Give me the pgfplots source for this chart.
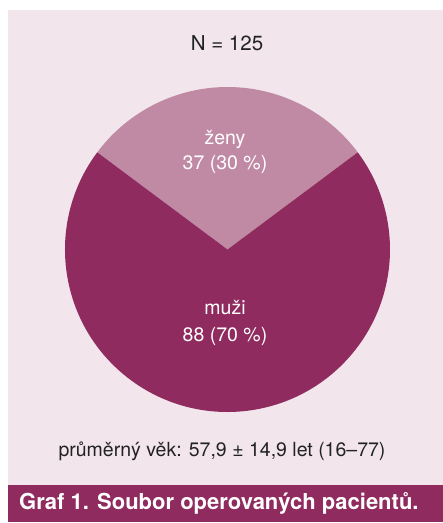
\documentclass[border=0pt]{standalone}
\usepackage{pgfplots}
\usepackage{pgfplotstable}
\pgfplotsset{compat=1.18}
\usepackage{fontspec}
\setmainfont{TeX Gyre Heros}
\definecolor{bgc}{HTML}{F2E5EC}
\definecolor{dark}{HTML}{8F2B5E}
\definecolor{light}{HTML}{C08AA4}
\definecolor{txt}{HTML}{222222}
\pgfplotstableread{
label value
zeny 37
muzi 88
}\piedata
\begin{document}
\begin{tikzpicture}
\useasboundingbox (0,0) rectangle (443pt,523pt);
\pgfplotstablegetelem{0}{value}\of\piedata \let\vz\pgfplotsretval
\pgfplotstablegetelem{1}{value}\of\piedata \let\vm\pgfplotsretval
\pgfmathsetmacro{\tot}{\vz+\vm}
\pgfmathsetmacro{\az}{\vz/\tot*360}
\pgfmathsetmacro{\sa}{90-\az/2}
\pgfmathsetmacro{\ea}{90+\az/2}
\pgfmathsetmacro{\eb}{\sa+360}
\begin{axis}[x=1pt,y=1pt,xmin=0,xmax=443,ymin=0,ymax=523,
  hide axis, clip=false, at={(0,0)}, anchor=south west, scale only axis]
\addplot[draw=none] coordinates {(0,0) (443,523)};
\fill[bgc] (axis cs:8,1) rectangle (axis cs:443,513);
\fill[dark] (axis cs:8,1) rectangle (axis cs:443,38);
\fill[light] (axis cs:227.5,273.5) -- ++(\sa:162.5pt) arc[start angle=\sa, end angle=\ea, radius=162.5pt] -- cycle;
\fill[dark] (axis cs:227.5,273.5) -- ++(\ea:162.5pt) arc[start angle=\ea, end angle=\eb, radius=162.5pt] -- cycle;
\node[anchor=base, txt, font=\fontsize{20.5}{24}\selectfont] at (axis cs:227,472) {N = 125};
\node[anchor=base, white, font=\fontsize{19.5}{23}\selectfont] at (axis cs:225,378) {ženy};
\node[anchor=base, white, font=\fontsize{19.5}{23}\selectfont] at (axis cs:225,353) {\vz\ (30 \%)};
\node[anchor=base, white, font=\fontsize{19.5}{23}\selectfont] at (axis cs:225,208) {muži};
\node[anchor=base, white, font=\fontsize{19.5}{23}\selectfont] at (axis cs:225,181) {\vm\ (70 \%)};
\node[anchor=base, txt, font=\fontsize{19.5}{23}\selectfont] at (axis cs:222,66) {průměrný věk: 57,9 ± 14,9 let (16–77)};
\node[anchor=base west, white, inner sep=0pt, font=\bfseries\fontsize{22}{26}\selectfont] at (axis cs:19,13) {Graf 1. Soubor operovaných pacientů.};
\end{axis}
\end{tikzpicture}
\end{document}
